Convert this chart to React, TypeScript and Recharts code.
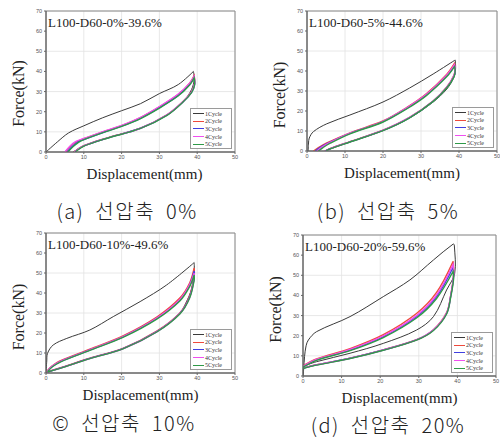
import { LineChart, Line, XAxis, YAxis, CartesianGrid, Legend, ReferenceLine } from 'recharts';

type Pt = [number, number];

// each loop: loading branch, then unloading branch back to the start
// (a) 0%
const a1: Pt[] = [[0, 0], [3, 5], [6, 9.5], [10, 13], [15, 17], [20, 20.5], [25, 24], [30, 29], [35, 33.5], [39, 40], [39.2, 36], [38.5, 31], [36.3, 25], [32, 18.4], [25, 11.8], [16, 6.8], [10, 3], [7.2, 0]];
const a2: Pt[] = [[5.2, 0], [6.5, 2.8], [8, 5], [10, 6.6], [16, 10.6], [20, 13.1], [25, 17.1], [30, 22.4], [35, 28.6], [38, 34.2], [39.2, 38], [39.3, 34], [38.5, 30], [36.3, 25.2], [32, 18.5], [25, 11.9], [16, 6.9], [10, 3.1], [7.4, 0]];
const a3: Pt[] = [[5.6, 0], [7, 2.8], [8.5, 5], [10, 6.2], [16, 10.3], [20, 12.8], [25, 16.7], [30, 22], [35, 28.1], [38, 33.6], [39.2, 37.2], [39.3, 33.5], [38.5, 29.6], [36.3, 25], [32, 18.3], [25, 11.8], [16, 6.8], [10, 3], [7.6, 0]];
const a4: Pt[] = [[5, 0], [6.3, 2.9], [7.8, 5.2], [10, 6.7], [16, 10.7], [20, 13.2], [25, 17.2], [30, 22.6], [35, 28.8], [38, 34.2], [39.2, 37.6], [39.3, 33.8], [38.5, 29.8], [36.3, 25.1], [32, 18.4], [25, 11.8], [16, 6.8], [10, 3], [7.5, 0]];
const a5: Pt[] = [[5.8, 0], [7.2, 2.7], [8.7, 4.9], [10, 6.1], [16, 10.2], [20, 12.7], [25, 16.6], [30, 21.8], [35, 27.9], [38, 33.3], [39.2, 36.8], [39.3, 33.2], [38.5, 29.5], [36.3, 24.9], [32, 18.2], [25, 11.7], [16, 6.7], [10, 2.9], [7.7, 0]];

// (b) 5%
const b1: Pt[] = [[0.3, 0], [0.4, 4], [0.6, 6.5], [1.7, 9.7], [5.2, 13.6], [11.3, 18], [20, 24.5], [27, 31.5], [33.2, 38.5], [39, 45.5], [39.1, 41], [38.7, 37], [36.8, 31], [33.2, 24.5], [27, 16.5], [20, 10.2], [11.3, 4.5], [6, 1], [4.7, 0]];
const b2: Pt[] = [[1.7, 0], [3, 1.7], [5.2, 4], [11.3, 9.1], [20, 15], [26.2, 21.7], [31.4, 28.6], [36.8, 38.4], [38.8, 43.8], [39, 41.5], [38.7, 38], [36.8, 32], [33.2, 25], [27, 16.8], [20, 10.4], [11.3, 4.7], [6, 1.2], [4.7, 0]];
const b3: Pt[] = [[2.2, 0], [3.4, 1.7], [5.5, 3.9], [11.3, 8.8], [20, 14.7], [26.2, 21.3], [31.4, 28], [36.8, 37.6], [38.8, 42.6], [39, 40.8], [38.7, 37.5], [36.8, 31.8], [33.2, 24.9], [27, 16.7], [20, 10.3], [11.3, 4.6], [6, 1.1], [4.8, 0]];
const b4: Pt[] = [[2.6, 0], [3.8, 1.8], [5.8, 4], [11.3, 8.9], [20, 14.8], [26.2, 21.5], [31.4, 28.3], [36.8, 38], [38.8, 43.2], [39, 41.2], [38.7, 37.8], [36.8, 31.9], [33.2, 25], [27, 16.8], [20, 10.3], [11.3, 4.6], [6, 1.1], [4.9, 0]];
const b5: Pt[] = [[3, 0], [4.2, 1.7], [6, 3.8], [11.3, 8.6], [20, 14.5], [26.2, 21], [31.4, 27.7], [36.8, 37.2], [38.8, 42.2], [39, 40.5], [38.7, 37.2], [36.8, 31.6], [33.2, 24.8], [27, 16.6], [20, 10.2], [11.3, 4.5], [6, 1], [5, 0]];

// (c) 10%
const c1: Pt[] = [[0, 0], [0.2, 6], [0.4, 9.8], [1.9, 14], [5.5, 17.3], [11.6, 21.5], [17.8, 28.2], [24.9, 35.7], [31.9, 44], [39.2, 55.2], [39.2, 51], [38.5, 42], [37, 35], [35.4, 29.8], [29.3, 20.7], [20.5, 12.3], [11.6, 7.3], [5, 3.2], [0.3, 0.3]];
const c2: Pt[] = [[0.2, 0.8], [1.5, 3.4], [3.7, 6], [11.6, 11.9], [20.5, 18.7], [29.3, 28], [35.4, 37.5], [38, 45], [39.2, 52.5], [39.2, 48.5], [38, 38.5], [35.4, 30], [29.3, 20.9], [20.5, 12.4], [11.6, 7.4], [5, 3.3], [0.2, 0.5]];
const c3: Pt[] = [[0.3, 0.7], [1.6, 3.2], [3.8, 5.7], [11.6, 11.5], [20.5, 18.2], [29.3, 27.3], [35.4, 36.5], [38, 44], [39.2, 51], [39.2, 47.5], [38, 38], [35.4, 29.8], [29.3, 20.7], [20.5, 12.3], [11.6, 7.3], [5, 3.2], [0.3, 0.5]];
const c4: Pt[] = [[0.3, 0.8], [1.6, 3.3], [3.8, 5.8], [11.6, 11.6], [20.5, 18.3], [29.3, 27.5], [35.4, 36.8], [38, 44.2], [39.2, 50], [39.2, 47], [38, 37.8], [35.4, 29.7], [29.3, 20.6], [20.5, 12.2], [11.6, 7.2], [5, 3.1], [0.3, 0.5]];
const c5: Pt[] = [[0.4, 0.7], [1.7, 3.1], [3.9, 5.6], [11.6, 11.3], [20.5, 17.9], [29.3, 26.9], [35.4, 36], [38, 43.2], [39.2, 49], [39.2, 46.5], [38, 37.5], [35.4, 29.5], [29.3, 20.5], [20.5, 12.2], [11.6, 7.2], [5, 3.1], [0.4, 0.5]];

// (d) 20%
const d1: Pt[] = [[0, 0], [0.2, 4], [0.4, 9.6], [0.8, 15], [1.4, 17.9], [3.5, 22], [12.2, 29.5], [20.8, 39.4], [27.7, 47.7], [33.8, 57.6], [38.9, 65.5], [39.2, 65], [39.3, 51], [37.2, 42.7], [33.8, 29.5], [29.4, 22.8], [20.8, 16.2], [12.2, 11.3], [3.5, 7.1], [0.3, 5]];
const d2: Pt[] = [[0, 5], [3.5, 8.5], [12.2, 13.6], [20.8, 20.5], [29.4, 31], [34.6, 41.5], [38.9, 57], [39, 50], [38.3, 40.5], [37.2, 31.5], [33.8, 23], [29.4, 18], [20.8, 13], [12.2, 8.9], [3.5, 5.6], [0, 4]];
const d3: Pt[] = [[0, 4.6], [3.5, 8], [12.2, 12.9], [20.8, 19.5], [29.4, 29.5], [34.6, 39.4], [38.9, 54], [39, 49], [38.3, 40], [37.2, 31], [33.8, 22.8], [29.4, 17.9], [20.8, 12.9], [12.2, 8.8], [3.5, 5.5], [0, 3.8]];
const d4: Pt[] = [[0, 4.8], [3.5, 8.2], [12.2, 13.2], [20.8, 19.9], [29.4, 30], [34.6, 40.2], [38.9, 55.5], [39, 49.5], [38.3, 40.2], [37.2, 31.2], [33.8, 22.9], [29.4, 17.9], [20.8, 12.9], [12.2, 8.8], [3.5, 5.5], [0, 3.9]];
const d5: Pt[] = [[0, 4.4], [3.5, 7.8], [12.2, 12.6], [20.8, 19.1], [29.4, 28.8], [34.6, 38.5], [38.9, 52], [39, 48], [38.3, 39.5], [37.2, 30.8], [33.8, 22.6], [29.4, 17.8], [20.8, 12.8], [12.2, 8.7], [3.5, 5.4], [0, 3.7]];

const cycleNames = ['1Cycle', '2Cycle', '3Cycle', '4Cycle', '5Cycle'];
const cycleColors = ['#3a3a3a', '#ee4a3c', '#4040e0', '#f050f0', '#2f9a48'];
const xTicks = [0, 10, 20, 30, 40, 50];
const yTicks = [0, 10, 20, 30, 40, 50, 60, 70];

const SERIF = '"Liberation Serif", "Times New Roman", serif';
const PAD_L = 50;
const PAD_T = 12;
const PAD_R = 6;
const PAD_B = 50;
const Y_W = 14;
const X_H = 14;

type Geo = { L: number; T: number; R: number; B: number; yShift: number; xShift: number };

const toPts = (arr: Pt[]) => arr.map(([x, y]) => ({ x, y }));

// smooth curve through the points, keeping sharp corners at the loop tips
function loopCurve(context: any) {
  let pts: number[][] = [];
  const tangent = (a: number[], b: number[], c: number[]) => {
    const ux = b[0] - a[0], uy = b[1] - a[1];
    const vx = c[0] - b[0], vy = c[1] - b[1];
    const lu = Math.hypot(ux, uy) || 1, lv = Math.hypot(vx, vy) || 1;
    if ((ux * vx + uy * vy) / (lu * lv) < -0.2) return [0, 0];
    const dx = c[0] - a[0], dy = c[1] - a[1];
    const ld = Math.hypot(dx, dy) || 1;
    return [dx / ld, dy / ld];
  };
  return {
    areaStart() {},
    areaEnd() {},
    lineStart() { pts = []; },
    point(x: number, y: number) { pts.push([x, y]); },
    lineEnd() {
      if (!pts.length) return;
      context.moveTo(pts[0][0], pts[0][1]);
      const n = pts.length;
      const tans = pts.map((p, i) => {
        if (i === 0 || i === n - 1) return [0, 0];
        return tangent(pts[i - 1], p, pts[i + 1]);
      });
      for (let i = 0; i < n - 1; i++) {
        const p1 = pts[i], p2 = pts[i + 1];
        const d = Math.hypot(p2[0] - p1[0], p2[1] - p1[1]) / 3;
        context.bezierCurveTo(
          p1[0] + tans[i][0] * d, p1[1] + tans[i][1] * d,
          p2[0] - tans[i + 1][0] * d, p2[1] - tans[i + 1][1] * d,
          p2[0], p2[1],
        );
      }
    },
  };
}

function LegendBox({ payload }: any) {
  return (
    <div style={{ border: '1px solid #9a9a9a', background: '#fff', width: 42, height: 41, boxSizing: 'border-box', padding: '1px 2px', fontFamily: SERIF, fontSize: 6, color: '#333' }}>
      {(payload || []).map((p: any) => (
        <div key={p.value} style={{ display: 'flex', alignItems: 'center', height: 7.6 }}>
          <span style={{ display: 'inline-block', width: 11, borderTop: `1.2px solid ${p.color}`, marginRight: 1 }} />
          <span>{p.value}</span>
        </div>
      ))}
    </div>
  );
}

const titleStyle = (size: number): React.CSSProperties => ({ fontFamily: SERIF, fontSize: size, fill: '#222' });

function Panel({ title, loops, geo }: { title: string; loops: Pt[][]; geo: Geo }) {
  const pw = geo.R - geo.L;
  const ph = geo.B - geo.T;
  const w = pw + PAD_L + PAD_R;
  const h = ph + PAD_T + PAD_B;
  return (
    <div style={{ position: 'absolute', left: geo.L - PAD_L, top: geo.T - PAD_T }}>
      <LineChart width={w} height={h} margin={{ top: PAD_T, right: PAD_R, left: PAD_L - Y_W, bottom: PAD_B - X_H }}>
        <CartesianGrid stroke="#e2e2e2" strokeWidth={0.8} />
        <XAxis
          dataKey="x"
          type="number"
          domain={[0, 50]}
          ticks={xTicks}
          height={X_H}
          allowDataOverflow
          tickSize={2}
          tickMargin={1}
          stroke="#666"
          tick={{ fontSize: 5.5, fill: '#555', fontFamily: 'Liberation Sans' }}
        />
        <YAxis
          type="number"
          domain={[0, 70]}
          ticks={yTicks}
          width={Y_W}
          allowDataOverflow
          tickSize={2}
          tickMargin={2}
          stroke="#666"
          tick={{ fontSize: 5.5, fill: '#555', fontFamily: 'Liberation Sans' }}
        />
        <ReferenceLine
          y={70}
          stroke="#8a8a8a"
          label={({ viewBox }: any) => (
            <text x={viewBox.x + 2} y={viewBox.y + 11} dominantBaseline="central" style={titleStyle(13)}>
              {title}
            </text>
          )}
        />
        <ReferenceLine
          y={0}
          stroke="#666"
          label={({ viewBox }: any) => (
            <text x={viewBox.x + viewBox.width / 2 + geo.xShift} y={viewBox.y + 22} textAnchor="middle" dominantBaseline="central" style={titleStyle(15)}>
              Displacement(mm)
            </text>
          )}
        />
        <ReferenceLine
          x={0}
          stroke="#666"
          label={({ viewBox }: any) => {
            const cx = viewBox.x - 28;
            const cy = viewBox.y + viewBox.height / 2 + geo.yShift;
            return (
              <text x={cx} y={cy} transform={`rotate(-90 ${cx} ${cy})`} textAnchor="middle" dominantBaseline="central" style={titleStyle(16)}>
                Force(kN)
              </text>
            );
          }}
        />
        <ReferenceLine x={50} stroke="#8a8a8a" />
        {loops.map((loop, i) => (
          <Line
            key={cycleNames[i]}
            data={toPts(loop)}
            dataKey="y"
            name={cycleNames[i]}
            type={loopCurve as any}
            stroke={cycleColors[i]}
            strokeWidth={i === 0 ? 1 : 1.4}
            dot={false}
            isAnimationActive={false}
          />
        ))}
        <Legend
          layout="vertical"
          align="center"
          verticalAlign="middle"
          content={<LegendBox />}
          wrapperStyle={{ position: 'absolute', left: PAD_L + pw - 45, top: PAD_T + ph - 44, width: 42, height: 41 }}
        />
      </LineChart>
    </div>
  );
}

const geoA: Geo = { L: 46, T: 11, R: 235, B: 152, yShift: 12, xShift: 4 };
const geoB: Geo = { L: 307, T: 11, R: 497, B: 151, yShift: 14, xShift: 0 };
const geoC: Geo = { L: 46, T: 233, R: 235, B: 373, yShift: 14, xShift: 0 };
const geoD: Geo = { L: 303, T: 235, R: 496, B: 376, yShift: 4, xShift: 0 };

const captionStyle = (cx: number, cy: number): React.CSSProperties => ({
  position: 'absolute',
  left: cx - 110,
  top: cy - 13,
  width: 220,
  height: 26,
  lineHeight: '26px',
  textAlign: 'center',
  fontFamily: '"Noto Sans CJK KR", sans-serif',
  fontSize: 20,
  fontWeight: 300,
  letterSpacing: 1.5,
  wordSpacing: 5,
  color: '#222',
  whiteSpace: 'nowrap',
});

export default function App() {
  return (
    <div style={{ position: 'absolute', left: 0, top: 0, width: 500, height: 444, background: '#fff', overflow: 'hidden' }}>
      <Panel title="L100-D60-0%-39.6%" loops={[a1, a2, a3, a4, a5]} geo={geoA} />
      <Panel title="L100-D60-5%-44.6%" loops={[b1, b2, b3, b4, b5]} geo={geoB} />
      <Panel title="L100-D60-10%-49.6%" loops={[c1, c2, c3, c4, c5]} geo={geoC} />
      <Panel title="L100-D60-20%-59.6%" loops={[d1, d2, d3, d4, d5]} geo={geoD} />
      <div style={captionStyle(127, 211)}>(a) 선압축 0%</div>
      <div style={captionStyle(388, 211)}>(b) 선압축 5%</div>
      <div style={captionStyle(124, 423)}>© 선압축 10%</div>
      <div style={captionStyle(388, 425)}>(d) 선압축 20%</div>
    </div>
  );
}
